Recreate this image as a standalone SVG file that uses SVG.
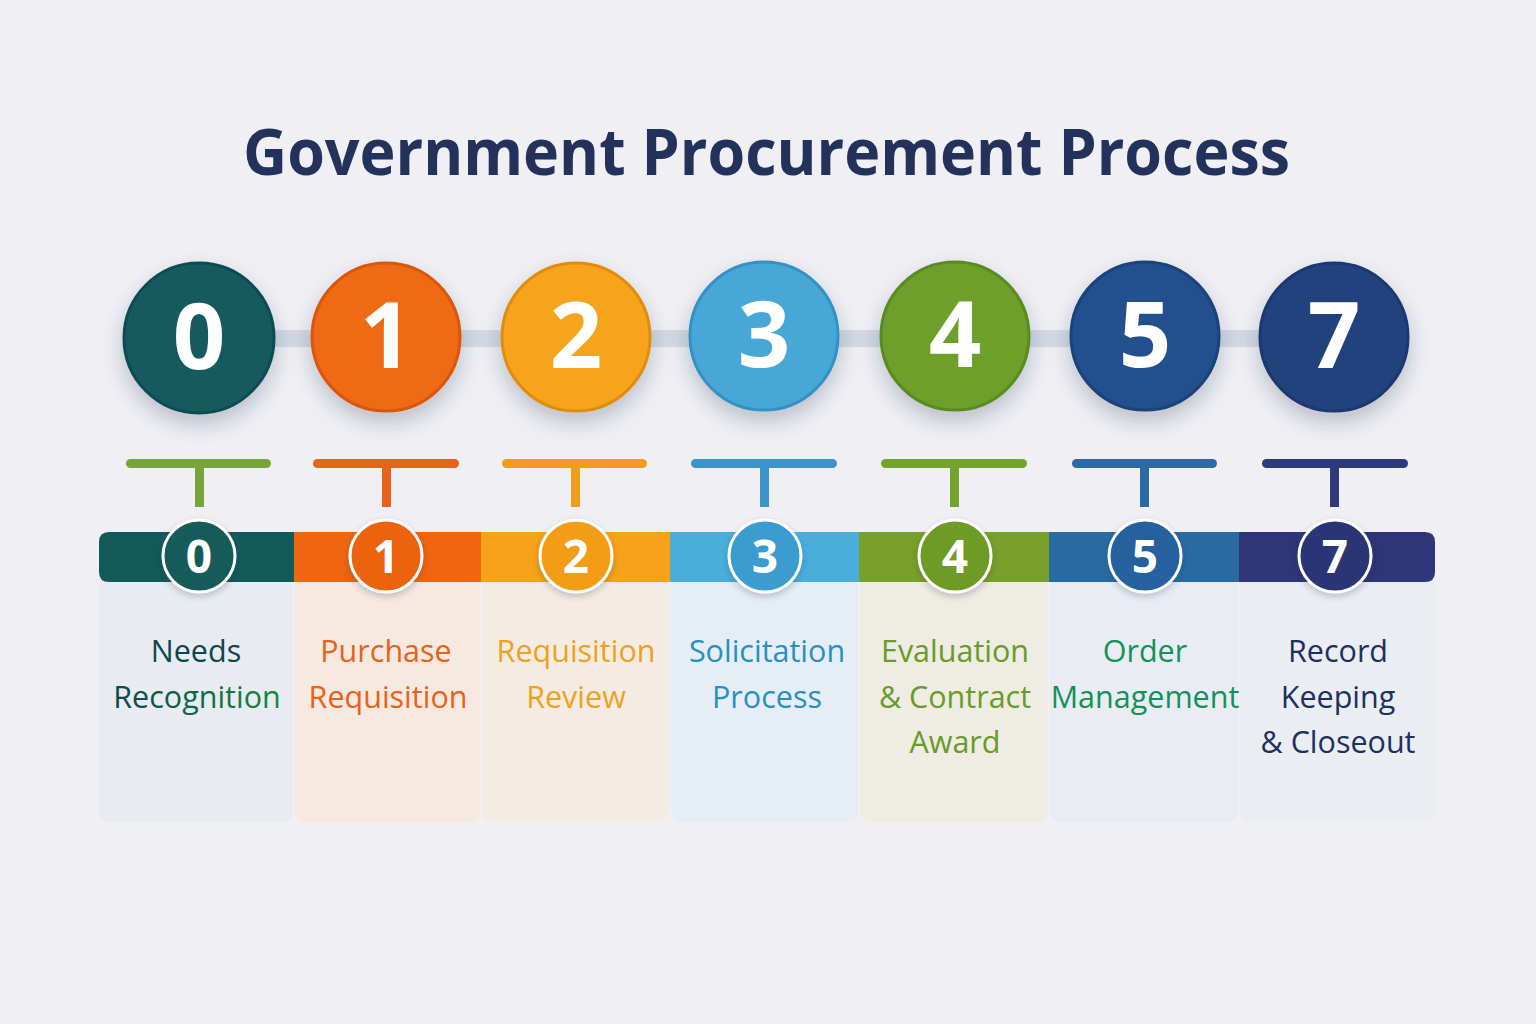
<svg xmlns="http://www.w3.org/2000/svg" width="1536" height="1024" viewBox="0 0 1536 1024">
<defs>
<style>
.title{font-family:"Open Sans","Noto Sans",sans-serif;font-weight:700;font-size:65px;fill:#22325a}
.big{font-family:"Open Sans","Noto Sans",sans-serif;font-weight:700;font-size:92px;fill:#fff;text-anchor:middle}
.small{font-family:"Open Sans","Noto Sans",sans-serif;font-weight:700;font-size:46px;fill:#fff;text-anchor:middle}
.lbl{font-family:"Open Sans","Noto Sans",sans-serif;font-weight:500;font-size:30.5px;text-anchor:middle}
.badge{stroke:#fff;stroke-width:3}
</style>
<filter id="sh" x="-40%" y="-40%" width="180%" height="190%">
<feDropShadow dx="0" dy="10" stdDeviation="10" flood-color="#203050" flood-opacity="0.25"/>
</filter>
<filter id="sh2" x="-30%" y="-30%" width="160%" height="170%">
<feDropShadow dx="0" dy="3" stdDeviation="3" flood-color="#203050" flood-opacity="0.25"/>
</filter>
<linearGradient id="g0" x1="0" x2="1"><stop offset="0" stop-color="#0e4550"/><stop offset="1" stop-color="#148a3c"/></linearGradient>
</defs>
<rect width="1536" height="1024" fill="#efeff4"/>
<text class="title" x="243" y="175" textLength="1047" lengthAdjust="spacingAndGlyphs">Government Procurement Process</text>

<g id="connectors">
<rect x="200" y="330" width="1134" height="17" fill="#d3d8e2"/>
<g id="t0" fill="#77a53a"><rect x="126" y="459" width="145" height="9" rx="4.5"/><rect x="195" y="463" width="9" height="44"/></g>
<g id="t1" fill="#e8621a"><rect x="313" y="459" width="146" height="9" rx="4.5"/><rect x="382" y="463" width="9" height="44"/></g>
<g id="t2" fill="#f29c1e"><rect x="502" y="459" width="145" height="9" rx="4.5"/><rect x="571" y="463" width="9" height="44"/></g>
<g id="t3" fill="#3a95cb"><rect x="691" y="459" width="146" height="9" rx="4.5"/><rect x="760" y="463" width="9" height="44"/></g>
<g id="t4" fill="#73a22d"><rect x="881" y="459" width="146" height="9" rx="4.5"/><rect x="950" y="463" width="9" height="44"/></g>
<g id="t5" fill="#2c6aa6"><rect x="1072" y="459" width="145" height="9" rx="4.5"/><rect x="1140" y="463" width="9" height="44"/></g>
<g id="t7" fill="#2e3a7c"><rect x="1262" y="459" width="146" height="9" rx="4.5"/><rect x="1330" y="463" width="9" height="44"/></g>
</g>

<g id="top-circles">
<g id="c0"><circle cx="199" cy="338" r="75" fill="#155a60" stroke="#0f4c52" stroke-width="3" filter="url(#sh)"/><text class="big" x="199" y="369">0</text></g>
<g id="c1"><circle cx="386" cy="337" r="74" fill="#f06a12" stroke="#d9560a" stroke-width="3" filter="url(#sh)"/><text class="big" x="386" y="368">1</text></g>
<g id="c2"><circle cx="576" cy="337" r="74" fill="#f6a41b" stroke="#e08c10" stroke-width="3" filter="url(#sh)"/><text class="big" x="576" y="368">2</text></g>
<g id="c3"><circle cx="764" cy="336" r="74" fill="#47a7d7" stroke="#3591c2" stroke-width="3" filter="url(#sh)"/><text class="big" x="764" y="367">3</text></g>
<g id="c4"><circle cx="955" cy="336" r="74" fill="#6d9f2a" stroke="#5c8a20" stroke-width="3" filter="url(#sh)"/><text class="big" x="955" y="367">4</text></g>
<g id="c5"><circle cx="1145" cy="336" r="74" fill="#244f8d" stroke="#1c427a" stroke-width="3" filter="url(#sh)"/><text class="big" x="1145" y="367">5</text></g>
<g id="c7"><circle cx="1334" cy="337" r="74" fill="#23437d" stroke="#1b3770" stroke-width="3" filter="url(#sh)"/><text class="big" x="1334" y="368">7</text></g>
</g>

<g id="cards">
<g id="card0"><rect x="99" y="575" width="194" height="247" rx="10" fill="#e8ecf1"/></g>
<g id="card1"><rect x="295" y="575" width="185" height="247" rx="10" fill="#f6e9df"/></g>
<g id="card2"><rect x="482" y="575" width="187" height="247" rx="10" fill="#f4ece3"/></g>
<g id="card3"><rect x="671" y="575" width="187" height="247" rx="10" fill="#e5edf5"/></g>
<g id="card4"><rect x="860" y="575" width="188" height="247" rx="10" fill="#eeece3"/></g>
<g id="card5"><rect x="1050" y="575" width="188" height="247" rx="10" fill="#e9edf3"/></g>
<g id="card7"><rect x="1240" y="575" width="195" height="247" rx="10" fill="#eaedf2"/></g>
</g>

<g id="header-bar">
<path d="M109 532 H294 V582 H109 Q99 582 99 572 V542 Q99 532 109 532Z" fill="#125a5a"/>
<rect x="294" y="532" width="188" height="50" fill="#f0650f"/>
<rect x="481" y="532" width="190" height="50" fill="#f7a21a"/>
<rect x="670" y="532" width="190" height="50" fill="#4aaedb"/>
<rect x="859" y="532" width="191" height="50" fill="#78a02a"/>
<rect x="1049" y="532" width="191" height="50" fill="#2a6aa2"/>
<path d="M1239 532 H1425 Q1435 532 1435 542 V572 Q1435 582 1425 582 H1239Z" fill="#2e3678"/>
</g>

<g id="badges">
<g id="b0"><circle class="badge" cx="199" cy="556" r="36" fill="#125a5a" filter="url(#sh2)"/><text class="small" x="199" y="573">0</text></g>
<g id="b1"><circle class="badge" cx="386" cy="556" r="36" fill="#ec6410" filter="url(#sh2)"/><text class="small" x="386" y="573">1</text></g>
<g id="b2"><circle class="badge" cx="576" cy="556" r="36" fill="#f39c19" filter="url(#sh2)"/><text class="small" x="576" y="573">2</text></g>
<g id="b3"><circle class="badge" cx="765" cy="556" r="36" fill="#3a9ccf" filter="url(#sh2)"/><text class="small" x="765" y="573">3</text></g>
<g id="b4"><circle class="badge" cx="955" cy="556" r="36" fill="#6e9a26" filter="url(#sh2)"/><text class="small" x="955" y="573">4</text></g>
<g id="b5"><circle class="badge" cx="1145" cy="556" r="36" fill="#25609e" filter="url(#sh2)"/><text class="small" x="1145" y="573">5</text></g>
<g id="b7"><circle class="badge" cx="1335" cy="556" r="36" fill="#2a3474" filter="url(#sh2)"/><text class="small" x="1335" y="573">7</text></g>
</g>

<g id="labels">
<text class="lbl" fill="url(#g0)"><tspan x="196" y="662" fill="#0e4550">Needs</tspan><tspan x="197" y="708">Recognition</tspan></text>
<text class="lbl" fill="#e8621a"><tspan x="386" y="662">Purchase</tspan><tspan x="388" y="708">Requisition</tspan></text>
<text class="lbl" fill="#f0a020"><tspan x="576" y="662">Requisition</tspan><tspan x="576" y="708">Review</tspan></text>
<text class="lbl" fill="#2a8fc0"><tspan x="767" y="662">Solicitation</tspan><tspan x="767" y="708">Process</tspan></text>
<text class="lbl" fill="#6a9a28"><tspan x="955" y="662">Evaluation</tspan><tspan x="955" y="708">&amp; Contract</tspan><tspan x="955" y="753">Award</tspan></text>
<text class="lbl" fill="#14905a"><tspan x="1145" y="662">Order</tspan><tspan x="1145" y="708">Management</tspan></text>
<text class="lbl" fill="#1e3060"><tspan x="1338" y="662">Record</tspan><tspan x="1338" y="708">Keeping</tspan><tspan x="1338" y="753">&amp; Closeout</tspan></text>
</g>
</svg>
